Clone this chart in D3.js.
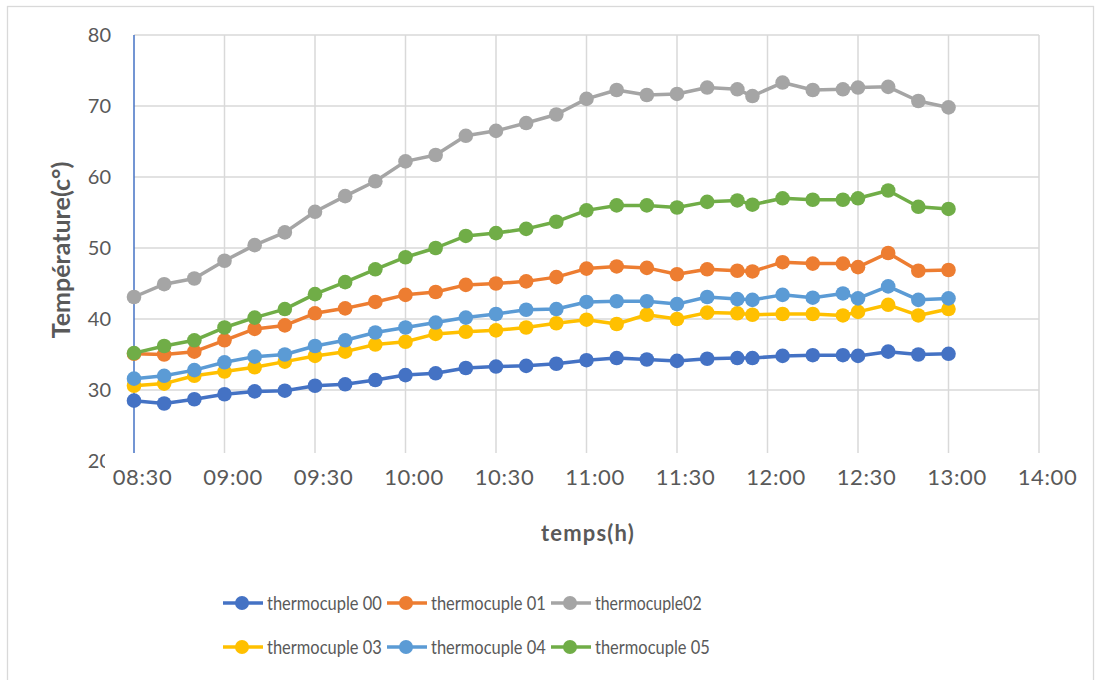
<!DOCTYPE html>
<html>
<head>
<meta charset="utf-8">
<script src="https://cdn.jsdelivr.net/npm/d3@7"></script>
<style>
  html, body { margin: 0; padding: 0; background: #fff; }
  svg { display: block; font-family: Lato, "Open Sans", sans-serif; }
</style>
</head>
<body>
<svg id="chart" width="1101" height="680"></svg>
<script>
// Sampling times (hh:mm)
const times = ["08:30","08:40","08:50","09:00","09:10","09:20","09:30","09:40","09:50",
  "10:00","10:10","10:20","10:30","10:40","10:50","11:00","11:10","11:20","11:30","11:40",
  "11:50","11:55","12:05","12:15","12:25","12:30","12:40","12:50","13:00"];

// Temperatures (°C) per thermocouple
const tc00 = [28.5,28.1,28.7,29.4,29.8,29.9,30.6,30.8,31.4,32.1,32.35,33.1,33.3,33.4,33.7,34.2,34.5,34.3,34.1,34.4,34.5,34.5,34.8,34.9,34.9,34.8,35.4,35.0,35.1];
const tc01 = [35.1,35.0,35.4,37.0,38.6,39.1,40.8,41.5,42.4,43.4,43.8,44.8,45.0,45.3,45.9,47.1,47.4,47.2,46.3,47.0,46.8,46.7,48.0,47.8,47.8,47.3,49.3,46.8,46.9];
const tc02 = [43.1,44.9,45.7,48.2,50.4,52.2,55.1,57.3,59.4,62.2,63.1,65.8,66.5,67.6,68.8,71.0,72.25,71.55,71.7,72.6,72.35,71.4,73.3,72.25,72.35,72.6,72.7,70.7,69.8];
const tc03 = [30.6,30.9,32.0,32.6,33.2,34.0,34.8,35.4,36.4,36.8,37.9,38.2,38.4,38.8,39.4,39.9,39.3,40.6,40.0,40.9,40.8,40.6,40.7,40.7,40.5,41.0,42.0,40.5,41.4];
const tc04 = [31.6,32.0,32.8,33.9,34.7,35.0,36.2,37.0,38.1,38.8,39.5,40.2,40.7,41.3,41.4,42.4,42.5,42.5,42.1,43.1,42.8,42.7,43.4,43.0,43.6,42.9,44.6,42.7,42.9];
const tc05 = [35.2,36.2,37.0,38.8,40.2,41.4,43.5,45.2,47.0,48.7,50.0,51.7,52.1,52.7,53.7,55.3,56.0,56.0,55.7,56.5,56.7,56.1,57.0,56.8,56.8,57.0,58.1,55.8,55.5];

const seriesNames = ["thermocuple 00","thermocuple 01","thermocuple02","thermocuple 03","thermocuple 04","thermocuple 05"];
const seriesValues = [tc00, tc01, tc02, tc03, tc04, tc05];
const seriesColors = ["#4472C4","#ED7D31","#A5A5A5","#FFC000","#5B9BD5","#70AD47"];

// Horizontal axis labels (one every major unit) and vertical ticks
const xTickLabels = ["08:30","09:00","09:30","10:00","10:30","11:00","11:30","12:00","12:30","13:00","14:00"];
const yTicks = [20,30,40,50,60,70,80];

const svg = d3.select("#chart");
const plot = { left: 134, right: 1039, top: 35, bottom: 461 };
const textColor = "#595959";

// chart frame
svg.append("rect").attr("x", 7.5).attr("y", 6.5).attr("width", 1086).attr("height", 690)
  .attr("fill", "#fff").attr("stroke", "#d9d9d9").attr("stroke-width", 1.3);

const toMin = s => { const [h, m] = s.split(":").map(Number); return h * 60 + m; };
const t0 = toMin(times[0]);
const majorUnit = 30;

const x = d3.scaleLinear()
  .domain([0, majorUnit * (xTickLabels.length - 1)])
  .range([plot.left, plot.right]);
const y = d3.scaleLinear().domain([20, 80]).range([plot.bottom, plot.top]);

const xTicks = xTickLabels.map((_, i) => i * majorUnit);

// gridlines
const grid = svg.append("g").attr("stroke", "#d9d9d9").attr("stroke-width", 1.5);
grid.selectAll("line.h").data(yTicks.filter(v => v > 20)).join("line")
  .attr("x1", plot.left).attr("x2", plot.right)
  .attr("y1", d => y(d)).attr("y2", d => y(d));
grid.selectAll("line.v").data(xTicks.slice(1)).join("line")
  .attr("x1", d => x(d)).attr("x2", d => x(d))
  .attr("y1", plot.top).attr("y2", plot.bottom);

// vertical axis line
svg.append("line").attr("x1", x(0)).attr("x2", x(0))
  .attr("y1", plot.top).attr("y2", plot.bottom)
  .attr("stroke", "#4472C4").attr("stroke-width", 1.5);

// y tick labels
const yAxis = d3.axisLeft(y).tickValues(yTicks).tickSize(0).tickPadding(23);
const yg = svg.append("g").attr("transform", `translate(${plot.left},0)`).call(yAxis);
yg.select(".domain").remove();
yg.selectAll("text").attr("fill", textColor).attr("font-size", 20)
  .attr("font-family", "Lato, sans-serif");

// x tick label band (opaque label area)
svg.append("rect").attr("x", 105).attr("y", 453).attr("width", 968).attr("height", 45).attr("fill", "#fff");

const xAxis = d3.axisBottom(x).tickValues(xTicks).tickFormat((d, i) => xTickLabels[i])
  .tickSize(0).tickPadding(8);
const xg = svg.append("g").attr("transform", `translate(0,${plot.bottom})`).call(xAxis);
xg.select(".domain").remove();
xg.selectAll("text").attr("fill", textColor).attr("font-size", 22)
  .attr("letter-spacing", 0.6).attr("dx", 8).attr("font-family", "Lato, sans-serif");

// axis titles
svg.append("text")
  .attr("transform", `translate(70,${(plot.top + plot.bottom) / 2 + 2}) rotate(-90)`)
  .attr("text-anchor", "middle").attr("font-size", 25).attr("font-weight", "bold")
  .attr("fill", textColor).text("Température(c°)");
svg.append("text").attr("x", 588).attr("y", 541)
  .attr("text-anchor", "middle").attr("font-size", 22).attr("font-weight", "bold")
  .attr("letter-spacing", 1.2).attr("fill", textColor).text("temps(h)");

// series
const line = d3.line().x(d => x(d.t)).y(d => y(d.v));
seriesValues.forEach((vals, si) => {
  const pts = vals.map((v, i) => ({ t: toMin(times[i]) - t0, v }));
  const g = svg.append("g");
  g.append("path").datum(pts).attr("d", line)
    .attr("fill", "none").attr("stroke", seriesColors[si])
    .attr("stroke-width", 3.5).attr("stroke-linejoin", "round");
  g.selectAll("circle").data(pts).join("circle")
    .attr("cx", d => x(d.t)).attr("cy", d => y(d.v)).attr("r", 7.3)
    .attr("fill", seriesColors[si]);
});

// legend
const legendRows = [603, 647];
const legendCols = [223, 387, 551];
seriesNames.forEach((name, i) => {
  const lx = legendCols[i % 3], ly = legendRows[Math.floor(i / 3)];
  const g = svg.append("g").attr("transform", `translate(${lx},${ly})`);
  g.append("line").attr("x1", 0).attr("x2", 40).attr("y1", 0).attr("y2", 0)
    .attr("stroke", seriesColors[i]).attr("stroke-width", 3.5);
  g.append("circle").attr("cx", 19).attr("cy", 0).attr("r", 7).attr("fill", seriesColors[i]);
  g.append("text").attr("x", 44).attr("y", 0).attr("dy", "0.35em")
    .attr("font-size", 19.5).attr("fill", textColor)
    .attr("textLength", name.length * 8.2).attr("lengthAdjust", "spacingAndGlyphs")
    .text(name);
});
</script>
</body>
</html>
